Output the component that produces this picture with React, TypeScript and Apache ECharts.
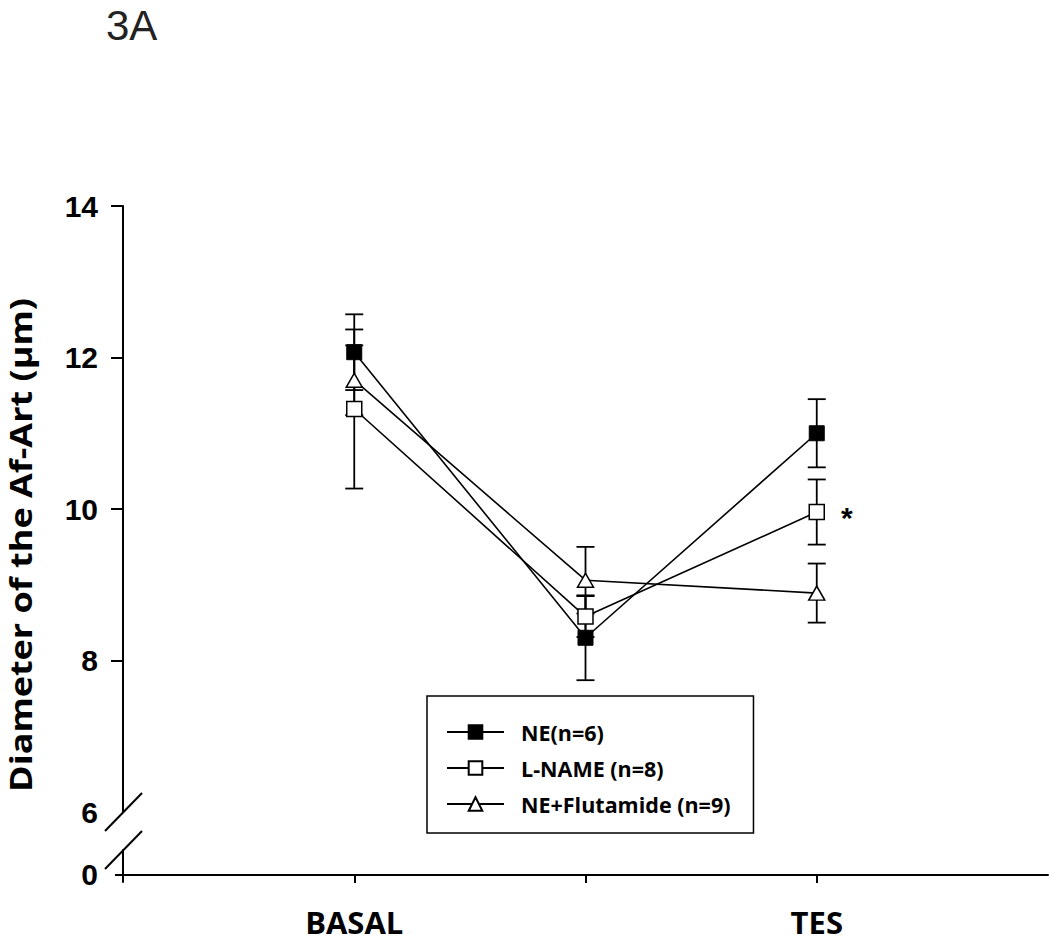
import React, { useEffect, useRef } from "react";
import * as echarts from "echarts";

const categories = ["BASAL", "", "TES"];
const xPositions = [1, 2, 3];
const neMean = [12.07, 8.3, 11.0];
const neErr = [0.5, 0.56, 0.45];
const lnameMean = [11.32, 8.58, 9.96];
const lnameErr = [1.05, 0.27, 0.43];
const fluMean = [11.7, 9.06, 8.89];
const fluErr = [0.46, 0.44, 0.39];
const yTickValues = [6, 8, 10, 12, 14];
const seriesNames = ["NE(n=6)", "L-NAME (n=8)", "NE+Flutamide (n=9)"];

const FONT = "Liberation Sans, Arial, sans-serif";
const FONT2 = "Open Sans, sans-serif";

function errData(mean: number[], err: number[]) {
  return xPositions.map((x, i) => [x, mean[i] - err[i], mean[i] + err[i]]);
}

function errSeries(mean: number[], err: number[]) {
  return {
    type: "custom",
    xAxisIndex: 0,
    yAxisIndex: 0,
    silent: true,
    z: 1,
    encode: { x: 0, y: [1, 2] },
    data: errData(mean, err),
    renderItem: (params: any, api: any) => {
      const x = api.value(0);
      const lo = api.coord([x, api.value(1)]);
      const hi = api.coord([x, api.value(2)]);
      const w = 9;
      const st = { stroke: "#000", lineWidth: 1.8 };
      return {
        type: "group",
        children: [
          { type: "line", shape: { x1: hi[0], y1: hi[1], x2: lo[0], y2: lo[1] }, style: st },
          { type: "line", shape: { x1: hi[0] - w, y1: hi[1], x2: hi[0] + w, y2: hi[1] }, style: st },
          { type: "line", shape: { x1: lo[0] - w, y1: lo[1], x2: lo[0] + w, y2: lo[1] }, style: st },
        ],
      };
    },
  };
}

function pts(mean: number[]) {
  return xPositions.map((x, i) => [x, mean[i]]);
}

export default function App() {
  const ref = useRef<HTMLDivElement>(null);
  useEffect(() => {
    if (!ref.current) return;
    const chart = echarts.init(ref.current, undefined, { renderer: "svg" });
    const lnameData: any[] = pts(lnameMean).map((p, i) =>
      i === 2
        ? {
            value: p,
            label: {
              show: true,
              formatter: "*",
              position: "right",
              distance: 16,
              offset: [0, 5],
              fontSize: 30,
              fontWeight: "bold",
              fontFamily: FONT,
              color: "#000",
            },
          }
        : p
    );
    const option: any = {
      animation: false,
      backgroundColor: "#fff",
      grid: [
        { left: 123, right: 2, top: 206, height: 606 },
        { left: 123, right: 2, top: 850, height: 32 },
      ],
      xAxis: [
        { type: "value", gridIndex: 0, min: 0, max: 4, show: false },
        {
          type: "value",
          gridIndex: 1,
          min: 0,
          max: 4,
          axisLine: { onZero: true, lineStyle: { color: "#000", width: 2 } },
          axisTick: { show: true, customValues: xPositions, length: 8, lineStyle: { color: "#000", width: 2 } },
          axisLabel: {
            customValues: [1, 3],
            formatter: (v: number) => categories[Math.round(v) - 1] || "",
            margin: 24,
            fontSize: 31,
            lineHeight: 31,
            fontWeight: "bold",
            fontFamily: FONT2,
            color: "#000",
          },
          splitLine: { show: false },
        },
      ],
      yAxis: [
        {
          type: "value",
          gridIndex: 0,
          min: 6,
          max: 14,
          interval: 2,
          axisLine: { show: true, lineStyle: { color: "#000", width: 2 } },
          axisTick: { show: true, customValues: [8, 10, 12, 14], length: 12, lineStyle: { color: "#000", width: 2 } },
          axisLabel: {
            customValues: yTickValues,
            margin: 25,
            fontSize: 30,
            fontWeight: "bold",
            fontFamily: FONT,
            color: "#000",
          },
          splitLine: { show: false },
        },
        {
          type: "value",
          gridIndex: 1,
          min: -0.185,
          max: 0.659,
          axisLine: { show: true, onZero: false, lineStyle: { color: "#000", width: 2 } },
          axisTick: { show: true, customValues: [0], length: 8, lineStyle: { color: "#000", width: 2 } },
          axisLabel: {
            customValues: [0],
            formatter: () => "0",
            margin: 25,
            fontSize: 30,
            fontWeight: "bold",
            fontFamily: FONT,
            color: "#000",
          },
          splitLine: { show: false },
        },
      ],
      legend: {
        orient: "vertical",
        left: 427,
        top: 696,
        data: seriesNames,
        itemWidth: 57,
        itemHeight: 17,
        itemGap: 12,
        padding: [24, 23, 17, 19],
        borderColor: "#000",
        borderWidth: 1.5,
        borderRadius: 0,
        backgroundColor: "#fff",
        textStyle: {
          fontSize: 21.5,
          fontWeight: "bold",
          fontFamily: FONT2,
          color: "#000",
          lineHeight: 24,
          padding: [0, 0, 0, 12],
        },
      },
      series: [
        errSeries(neMean, neErr),
        errSeries(lnameMean, lnameErr),
        errSeries(fluMean, fluErr),
        {
          name: seriesNames[0],
          type: "line",
          xAxisIndex: 0,
          yAxisIndex: 0,
          data: pts(neMean),
          symbol: "rect",
          symbolSize: 15,
          z: 3,
          lineStyle: { color: "#000", width: 1.6 },
          itemStyle: { color: "#000", borderColor: "#000", borderWidth: 1 },
        },
        {
          name: seriesNames[1],
          type: "line",
          xAxisIndex: 0,
          yAxisIndex: 0,
          data: lnameData,
          symbol: "rect",
          symbolSize: 15,
          z: 3,
          lineStyle: { color: "#000", width: 1.6 },
          itemStyle: { color: "#fff", borderColor: "#000", borderWidth: 1.5 },
        },
        {
          name: seriesNames[2],
          type: "line",
          xAxisIndex: 0,
          yAxisIndex: 0,
          data: pts(fluMean),
          symbol: "triangle",
          symbolSize: [16, 14],
          z: 3,
          lineStyle: { color: "#000", width: 1.6 },
          itemStyle: { color: "#fff", borderColor: "#000", borderWidth: 1.5 },
        },
      ],
      graphic: [
        {
          id: "panel",
          type: "text",
          left: 106,
          top: 4,
          style: { text: "3A", fontSize: 42, fontFamily: FONT, fill: "#222" },
        },
        {
          id: "ytitle",
          type: "text",
          x: 21,
          y: 545,
          rotation: Math.PI / 2,
          scaleX: 1.2,
          style: {
            text: "Diameter of the Af-Art (µm)",
            fontSize: 30,
            lineHeight: 34,
            fontWeight: "bold",
            fontFamily: FONT2,
            fill: "#000",
            align: "center",
            verticalAlign: "middle",
          },
        },
      ],
    };
    chart.setOption(option);
    const p6 = chart.convertToPixel({ xAxisIndex: 0, yAxisIndex: 0 }, [0, 6]) as number[];
    const pTop = chart.convertToPixel({ xAxisIndex: 1, yAxisIndex: 1 }, [0, 0.659]) as number[];
    const slash = (id: string, p: number[]) => ({
      id,
      type: "line",
      shape: { x1: p[0] - 18, y1: p[1] + 19, x2: p[0] + 19, y2: p[1] - 19 },
      style: { stroke: "#000", lineWidth: 2 },
      z: 10,
    });
    chart.setOption({ graphic: [slash("b1", p6), slash("b2", pTop)] });
    return () => chart.dispose();
  }, []);
  return (
    <div
      ref={ref}
      style={{ position: "absolute", left: 0, top: 0, width: 1050, height: 944 }}
    />
  );
}
